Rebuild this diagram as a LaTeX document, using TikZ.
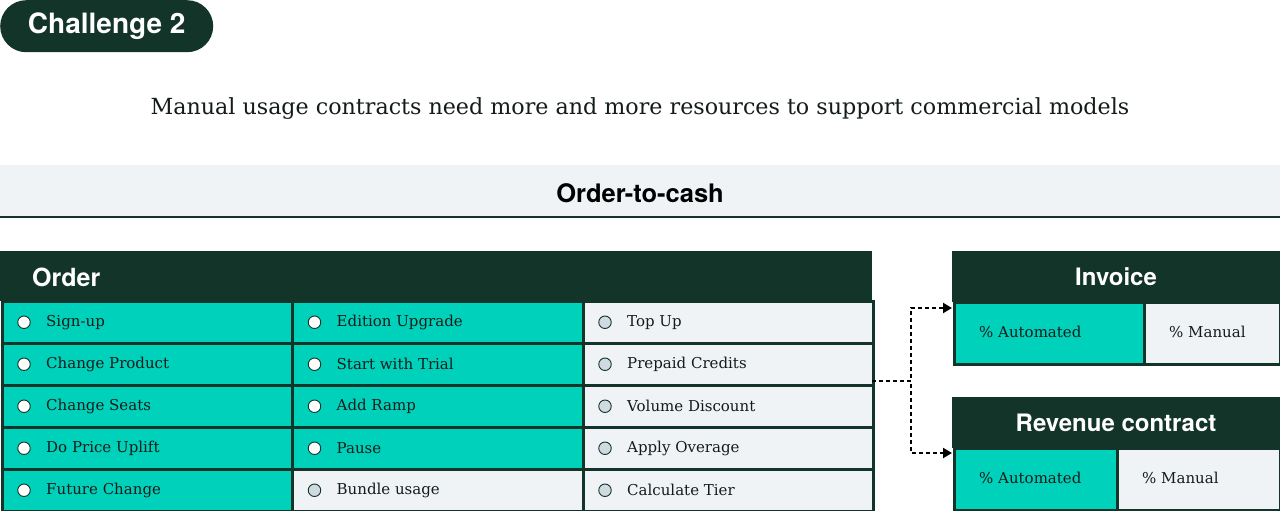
\documentclass[tikz,border=0pt]{standalone}
\usepackage{fontspec}
\setmainfont{DejaVu Serif}
\newfontfamily\hd{TeX Gyre Heros}
\usetikzlibrary{calc,arrows.meta}
\definecolor{dk}{RGB}{19,53,41}
\definecolor{tl}{RGB}{0,209,186}
\definecolor{lg}{RGB}{239,243,246}
\definecolor{bg}{RGB}{207,219,224}
\definecolor{tx}{RGB}{20,28,26}
\tikzset{
  cellbox/.style={draw=dk,line width=2.5pt,minimum width=290pt,minimum height=42pt,anchor=north west,inner sep=0pt},
  tcell/.style={cellbox,fill=tl},
  gcell/.style={cellbox,fill=lg},
  tdot/.style={circle,draw=dk,line width=0.9pt,fill=white,minimum size=12.5pt,inner sep=0pt},
  gdot/.style={circle,draw=dk,line width=0.9pt,fill=bg,minimum size=12.5pt,inner sep=0pt},
  ctext/.style={anchor=west,inner sep=0pt,text=tx,font=\fontsize{15}{18}\selectfont},
  hdrbox/.style={fill=dk,anchor=north west,inner sep=0pt},
  hdrtext/.style={text=white,font=\hd\bfseries\fontsize{24}{28}\selectfont,inner sep=0pt},
  conn/.style={draw=black,line width=2pt,dash pattern=on 4pt off 3pt,-{Triangle[length=9pt,width=10pt]}}
}
\begin{document}
\begin{tikzpicture}[x=1pt,y=-1pt]
\useasboundingbox[fill=white] (0,0) rectangle (1280,511);
% Challenge pill
\node[fill=dk,rounded corners=26pt,minimum width=213pt,minimum height=52pt,anchor=north west,inner sep=0pt,text=white,font=\hd\bfseries\fontsize{28}{32}\selectfont] (pill) at (0,0) {Challenge 2};
% subtitle
\node[font=\fontsize{22.2}{26}\selectfont,text=tx,inner sep=0pt] (sub) at (640,109) {Manual usage contracts need more and more resources to support commercial models};
% band
\node[fill=lg,minimum width=1280pt,minimum height=52pt,anchor=north west,inner sep=0pt] (band) at (0,165) {};
\draw[dk,line width=2pt] (band.south west) -- (band.south east);
\node[text=black,font=\hd\bfseries\fontsize{25.5}{29}\selectfont,inner sep=0pt] (otc) at (640,193) {Order-to-cash};
% cells
\foreach \c/\r/\s/\t [count=\i] in {
 0/0/t/Sign-up, 0/1/t/Change Product, 0/2/t/Change Seats, 0/3/t/Do Price Uplift, 0/4/t/Future Change,
 1/0/t/Edition Upgrade, 1/1/t/Start with Trial, 1/2/t/Add Ramp, 1/3/t/Pause, 1/4/g/Bundle usage,
 2/0/g/Top Up, 2/1/g/Prepaid Credits, 2/2/g/Volume Discount, 2/3/g/Apply Overage, 2/4/g/Calculate Tier}{
  \node[\s cell] (cell\i) at ({1+\c*290.5},{300+\r*42}) {};
  \node[\s dot] (dot\i) at ($(cell\i.west)+(23,0)$) {};
  \node[ctext] (lab\i) at ($(cell\i.west)+(45,0)$) {\t};
}
% Order header
\node[hdrbox,minimum width=872pt,minimum height=50pt] (ordh) at (0,251) {};
\node[hdrtext,anchor=west,font=\hd\bfseries\fontsize{25}{29}\selectfont] (ordt) at (32,277) {Order};
\coordinate (src) at (872,381);
% Invoice
\node[hdrbox,minimum width=328pt,minimum height=51pt] (invh) at (952,251) {};
\node[hdrtext] (invt) at (1116,277) {Invoice};
\node[tcell,minimum width=191pt,minimum height=62pt] (inva) at (953,301) {};
\node[gcell,minimum width=136pt,minimum height=62pt] (invm) at (1143,301) {};
\node[ctext] (invat) at (979,332) {\% Automated};
\node[ctext] (invmt) at (1169,332) {\% Manual};
% Revenue contract
\node[hdrbox,minimum width=328pt,minimum height=51pt] (revh) at (952,397) {};
\node[hdrtext] (revt) at (1116,423) {Revenue contract};
\node[tcell,minimum width=163pt,minimum height=62pt] (reva) at (953,447) {};
\node[gcell,minimum width=163pt,minimum height=62pt] (revm) at (1116,447) {};
\node[ctext] (revat) at (979,478) {\% Automated};
\node[ctext] (revmt) at (1142,478) {\% Manual};
% connectors
\draw[conn] (src) -- (911,381) |- ($(inva.north west)+(-1,7)$);
\draw[conn] (src) -- (911,381) |- ($(reva.north west)+(-1,6)$);
\end{tikzpicture}
\end{document}
